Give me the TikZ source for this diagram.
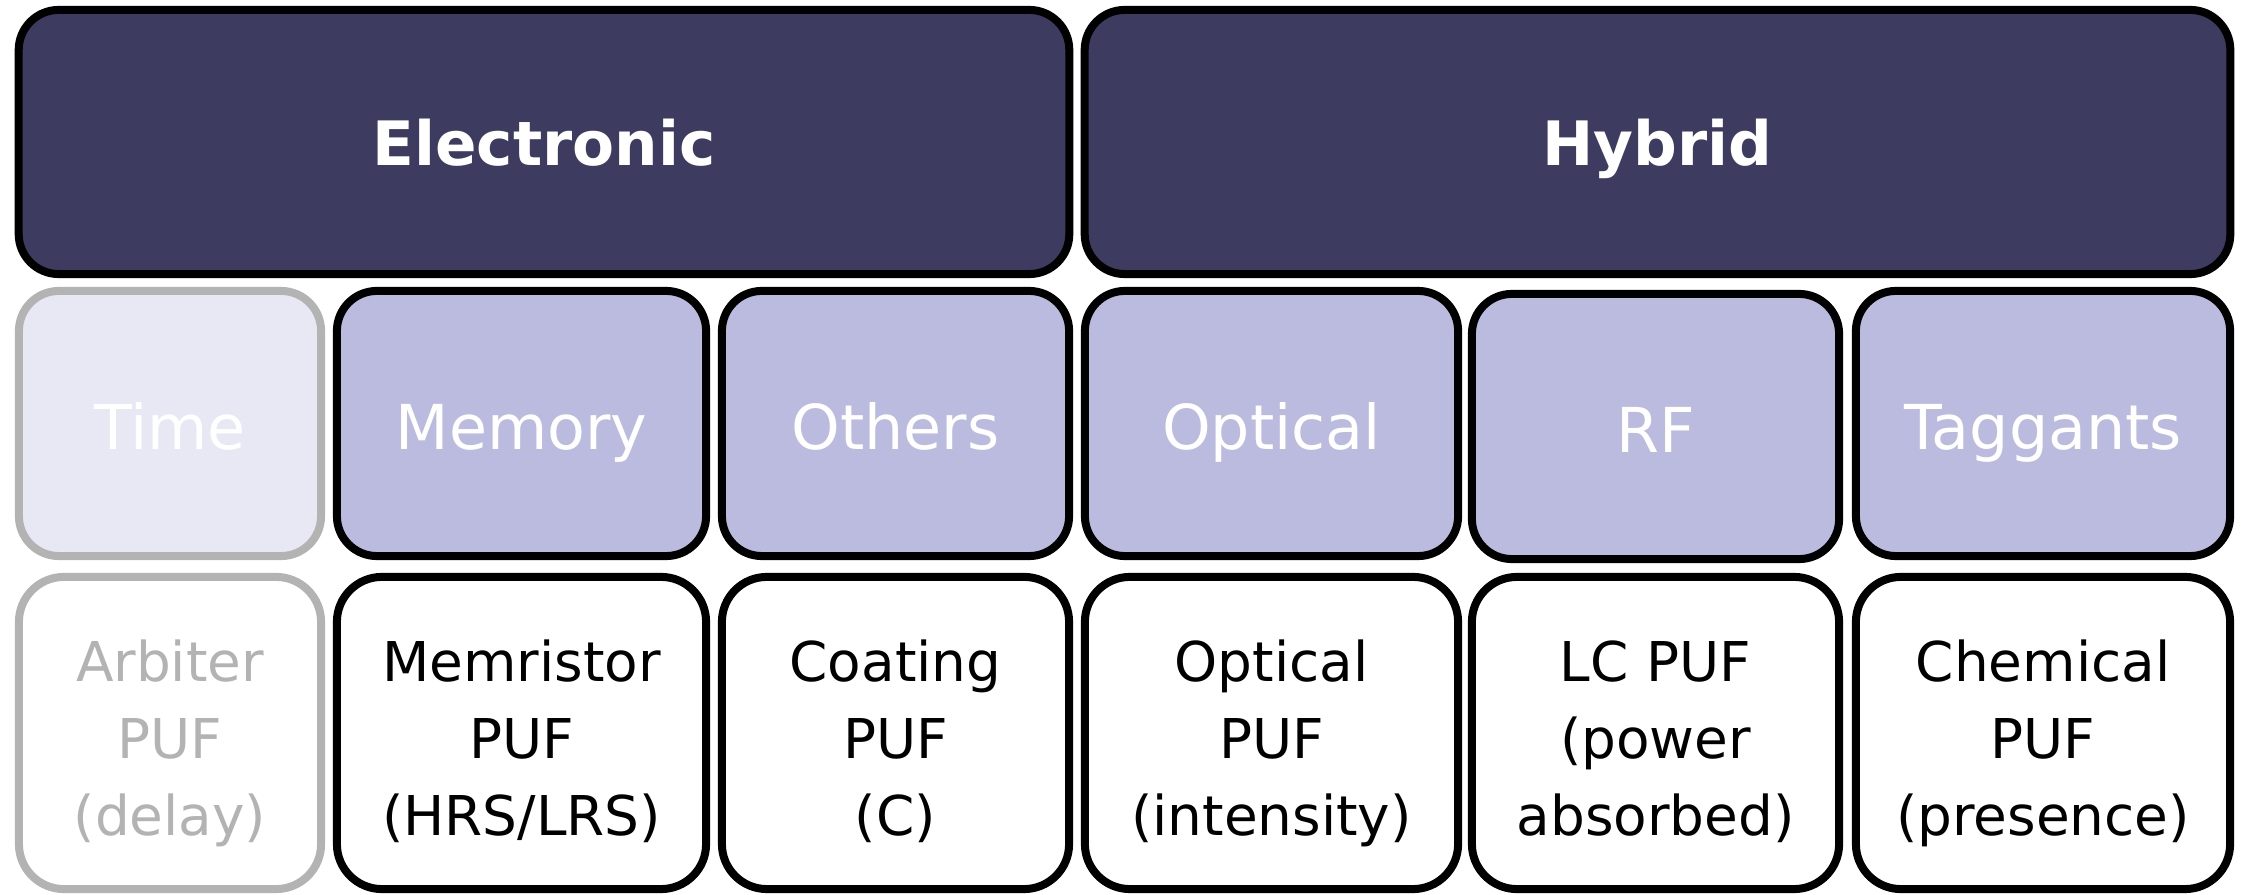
\documentclass[tikz,border=0pt]{standalone}
\usepackage{fontspec}
\setmainfont{DejaVu Sans}
\definecolor{navy}{HTML}{3D3C60}
\definecolor{lav}{HTML}{BBBBE0}
\definecolor{pale}{HTML}{E8E8F5}
\definecolor{greyline}{HTML}{B3B3B3}
\tikzset{
  basebox/.style={rectangle, draw, line width=0.08cm, inner sep=0pt, align=center},
  groupbox/.style={basebox, fill=navy, rounded corners=0.4cm, text=white,
    font=\fontsize{17.4}{21}\selectfont\bfseries, minimum height=2.64cm,
    text height=0.55cm, text depth=0.09cm},
  classbox/.style={basebox, fill=lav, rounded corners=0.4cm, text=white,
    font=\fontsize{17.6}{21}\selectfont, minimum height=2.65cm,
    text height=0.6cm, text depth=0.09cm},
  pufbox/.style={basebox, fill=white, rounded corners=0.45cm, text=black,
    font=\fontsize{15.6}{21.9}\selectfont, minimum height=3.12cm,
    text height=2.04cm, text depth=0cm},
  faded/.style={draw=greyline},
}
\begin{document}
\begin{tikzpicture}[x=0.01cm, y=-0.01cm]
  \useasboundingbox (0,0) rectangle (2242,895);

  % top level groups
  \node[groupbox, minimum width=10.50cm] (electronic) at (544,142) {Electronic};
  \node[groupbox, minimum width=11.45cm] (hybrid) at (1657.5,142) {Hybrid};

  % mechanism classes
  \node[classbox, faded, fill=pale, minimum width=3.02cm] (time) at (170,423.5) {Time};
  \node[classbox, minimum width=3.69cm] (memory) at (521.5,423.5) {Memory};
  \node[classbox, minimum width=3.47cm] (others) at (895.5,423.5) {Others};
  \node[classbox, minimum width=3.73cm] (optical) at (1271.5,423.5) {Optical};
  \node[classbox, minimum width=3.67cm] (rf) at (1655.5,426.5) {RF};
  \node[classbox, minimum width=3.74cm] (taggants) at (2043,423.5) {Taggants};

  % example PUFs
  \node[pufbox, faded, text=greyline, minimum width=3.02cm] (arbiter) at (170,733) {Arbiter\\PUF\\(delay)};
  \node[pufbox, minimum width=3.69cm] (memristor) at (521.5,733) {Memristor\\PUF\\(HRS/LRS)};
  \node[pufbox, minimum width=3.47cm] (coating) at (895.5,733) {Coating\\PUF\\(C)};
  \node[pufbox, minimum width=3.73cm] (opticalpuf) at (1271.5,733) {Optical\\PUF\\(intensity)};
  \node[pufbox, minimum width=3.67cm] (lcpuf) at (1655.5,733) {LC PUF\\(power\\absorbed)};
  \node[pufbox, minimum width=3.74cm] (chemical) at (2043,733) {Chemical\\PUF\\(presence)};
\end{tikzpicture}
\end{document}
